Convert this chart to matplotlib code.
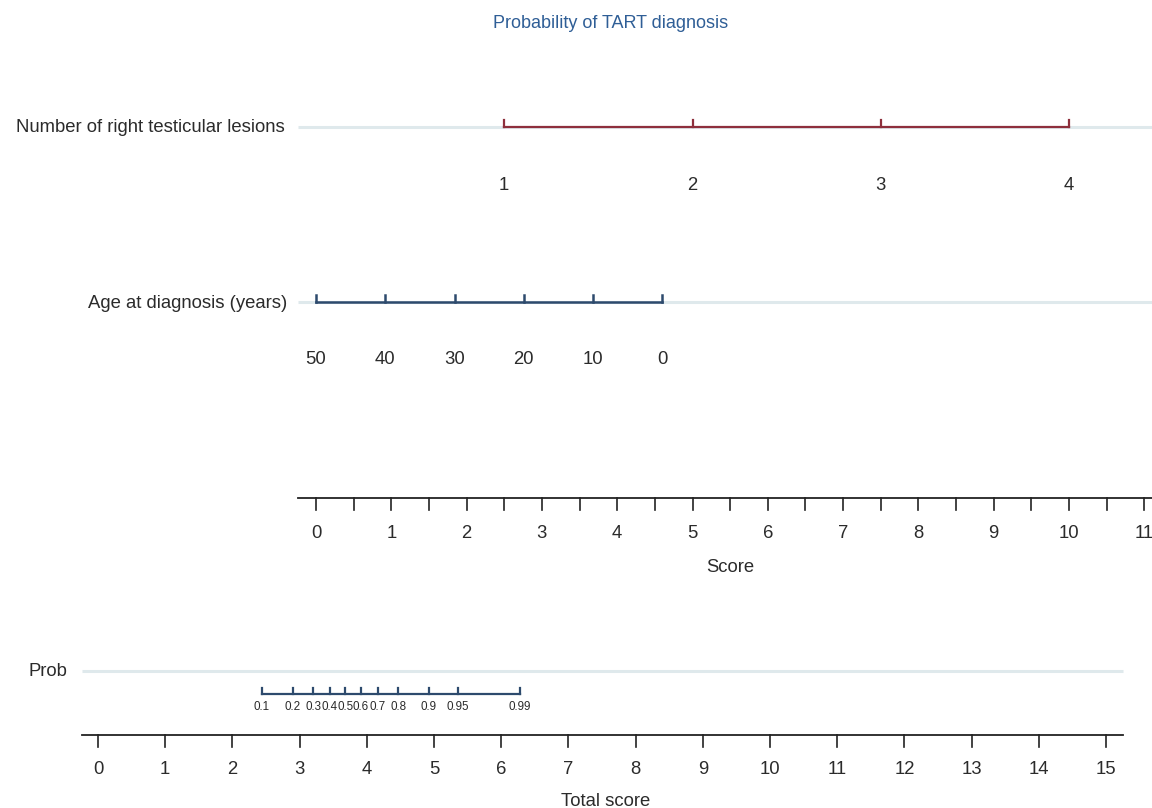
import numpy as np
import matplotlib
matplotlib.use("Agg")
import matplotlib.pyplot as plt

plt.rcParams['font.family'] = ['Liberation Sans', 'DejaVu Sans']

# nomogram data
lesion_labels = ["1", "2", "3", "4"]
lesion_points = [2.5, 5.0, 7.5, 10.0]
age_labels = ["50", "40", "30", "20", "10", "0"]
age_points = [0.0, 0.92, 1.84, 2.76, 3.68, 4.60]
score_ticks = np.arange(0, 11.01, 0.5)
score_labels = list(range(0, 12))
total_labels = list(range(0, 16))
prob_labels = ["0.1", "0.2", "0.3", "0.4", "0.5", "0.6", "0.7", "0.8", "0.9", "0.95", "0.99"]
prob_total = [2.44, 2.90, 3.20, 3.45, 3.68, 3.91, 4.16, 4.47, 4.92, 5.35, 6.28]

red = "#8E2F3C"
blue = "#2D4A6D"
light = "#DFE9EC"
txt = "#2B2B2B"
fs = 13.3

fig = plt.figure(figsize=(11.52, 8.08), dpi=100)

# top axes: score scale (0 at 316 px, 75.3 px per point)
ax1 = fig.add_axes([0, 0, 1, 1])
ax1.set_xlim(-316 / 75.3, (1152 - 316) / 75.3)
ax1.set_ylim(808, 0)
ax1.axis('off')

# bottom axes: total score scale (0 at 98 px, 67.2 px per point)
ax2 = fig.add_axes([0, 0, 1, 1])
ax2.patch.set_alpha(0)
ax2.set_xlim(-98 / 67.2, (1152 - 98) / 67.2)
ax2.set_ylim(808, 0)
ax2.axis('off')

fig.text(611 / 1152, 1 - 28.5 / 808, "Probability of TART diagnosis", color="#2F5E96",
         ha='center', va='baseline', fontsize=13)

#row 1: lesions
y = 127
ax1.plot([-0.24, 12], [y, y], color=light, lw=2.2, zorder=1, solid_capstyle='butt')
ax1.plot([lesion_points[0], lesion_points[-1]], [y, y], color=red, lw=1.6, zorder=2)
for p, lab in zip(lesion_points, lesion_labels):
    ax1.plot([p, p], [y, y - 7], color=red, lw=1.6, zorder=2)
    ax1.text(p, 189.5, lab, ha='center', va='baseline', fontsize=fs, color=txt)
ax1.text(-0.41, 132.5, "Number of right testicular lesions", ha='right', va='baseline', fontsize=fs, color=txt)

#row 2: age
y = 302
ax1.plot([-0.24, 12], [y, y], color=light, lw=2.2, zorder=1, solid_capstyle='butt')
ax1.plot([min(age_points), max(age_points)], [y, y], color=blue, lw=1.8, zorder=2)
for p, lab in zip(age_points, age_labels):
    ax1.plot([p, p], [y, y - 7], color=blue, lw=1.8, zorder=2)
    ax1.text(p, 363.5, lab, ha='center', va='baseline', fontsize=fs, color=txt)
ax1.text(-0.385, 307.5, "Age at diagnosis (years)", ha='right', va='baseline', fontsize=fs, color=txt)

#score axis
y = 498
ax1.plot([-0.24, 12], [y, y], color="#222222", lw=1.3)
for t in score_ticks:
    ax1.plot([t, t], [y, y + 12], color="#222222", lw=1.2)
for t in score_labels:
    ax1.text(t, 538.5, str(t), ha='center', va='baseline', fontsize=fs, color=txt)
ax1.text(5.5, 572, "Score", ha='center', va='baseline', fontsize=fs, color=txt)

#prob row
y = 671
ax2.plot([-0.24, 15.25], [y, y], color=light, lw=2.2, zorder=1, solid_capstyle='butt')
yb = 694
ax2.plot([prob_total[0], prob_total[-1]], [yb, yb], color=blue, lw=1.6)
for p, lab in zip(prob_total, prob_labels):
    ax2.plot([p, p], [yb, yb - 6], color=blue, lw=1.6)
    ax2.text(p, 710, lab, ha='center', va='baseline', fontsize=8.4, color=txt)
ax2.text(-0.45, 676.5, "Prob", ha='right', va='baseline', fontsize=fs, color=txt)

#total score axis
y = 735
ax2.plot([-0.24, 15.25], [y, y], color="#222222", lw=1.3)
for t in total_labels:
    ax2.plot([t, t], [y, y + 12], color="#222222", lw=1.2)
    ax2.text(t, 774.5, str(t), ha='center', va='baseline', fontsize=fs, color=txt)
ax2.text(7.55, 805.5, "Total score", ha='center', va='baseline', fontsize=fs, color=txt)

fig.savefig("out.png", dpi=100)
